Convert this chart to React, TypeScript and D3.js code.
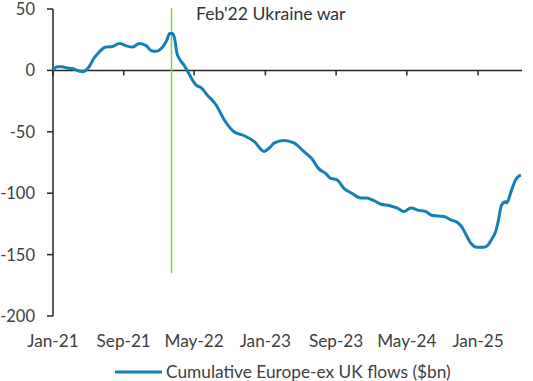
import React from "react";
import * as d3 from "d3";

const dates: string[] = [
  "2021-01-01","2021-01-15","2021-02-01","2021-02-18","2021-03-08","2021-04-01","2021-04-12",
  "2021-05-05","2021-05-22","2021-06-09","2021-07-01","2021-07-24","2021-08-17","2021-09-10",
  "2021-10-01","2021-10-25","2021-11-18","2021-12-05","2021-12-22","2022-01-09","2022-01-26",
  "2022-02-06","2022-02-16","2022-02-23","2022-03-03","2022-03-10","2022-03-28","2022-04-07",
  "2022-05-08","2022-05-25","2022-06-15","2022-07-15","2022-08-12","2022-09-15","2022-10-19",
  "2022-11-24","2022-12-28","2023-01-15","2023-02-01","2023-03-05","2023-04-09","2023-05-13",
  "2023-06-10","2023-07-03","2023-07-28","2023-08-14","2023-09-03","2023-09-28","2023-10-25",
  "2023-11-25","2023-12-16","2024-01-09","2024-02-03","2024-03-01","2024-03-28","2024-04-21",
  "2024-05-15","2024-06-12","2024-07-06","2024-07-25","2024-09-06","2024-10-01","2024-10-20",
  "2024-11-06","2024-11-21","2024-12-08","2024-12-28","2025-01-21","2025-02-05","2025-02-18",
  "2025-03-02","2025-03-12","2025-03-22","2025-04-06","2025-04-09","2025-04-26","2025-05-10",
  "2025-05-28",
];
const flows: number[] = [
  0, 3, 3, 2, 1.5, -0.5, -1,
  3, 10, 15, 19, 19.5, 22, 20,
  19, 22, 20, 16, 15.5, 18, 24,
  30, 30, 26, 14, 10, 4, 0,
  -12, -14, -20, -28, -40, -50, -53,
  -58, -66, -63, -59, -57, -59, -66,
  -72, -80, -84, -88, -89, -96, -100,
  -104, -104, -106, -109, -110, -112, -115,
  -112, -114, -115, -118, -119, -122, -123.5,
  -127.5, -134, -141, -144, -144, -142, -137,
  -131.5, -122, -110, -107, -108, -97.5, -89,
  -85,
];
const yTicks: number[] = [50, 0, -50, -100, -150, -200];
const xTickLabels: string[] = ["Jan-21", "Sep-21", "May-22", "Jan-23", "Sep-23", "May-24", "Jan-25"];
const eventDate = "2022-02-12";
const eventLabel = "Feb'22 Ukraine war";
const seriesName = "Cumulative Europe-ex UK flows ($bn)";

const parse = d3.timeParse("%Y-%m-%d");

export default function App() {
  const W = 533, H = 381;
  const x = d3.scaleTime()
    .domain([parse("2021-01-01")!, parse("2025-06-01")!])
    .range([53, 522]);
  const y = d3.scaleLinear().domain([-200, 50]).range([316, 9]);
  const data = dates.map((d, i) => ({ d: parse(d)!, v: flows[i] }));
  const line = d3.line<{ d: Date; v: number }>()
    .x((p) => x(p.d))
    .y((p) => y(p.v))
    .curve(d3.curveMonotoneX);
  const tickDates = xTickLabels.map((_, i) => d3.timeMonth.offset(parse("2021-01-01")!, i * 8));
  const font = "Lato, 'Open Sans', sans-serif";
  const txt = "#404040";
  const axisCol = "#262626";
  const ex = Math.round(x(parse(eventDate)!)) + 0.5;
  return (
    <svg width={W} height={H} style={{ position: "absolute", left: 0, top: 0, background: "#fff" }}>
      {/* y axis */}
      <line x1={53} x2={53} y1={y(50)} y2={y(-200)} stroke={axisCol} strokeWidth={1.5} />
      {yTicks.map((t) => (
        <g key={t}>
          <line x1={47} x2={53} y1={y(t)} y2={y(t)} stroke={axisCol} strokeWidth={1.5} />
          <text x={35} y={y(t)} dy="0.36em" textAnchor="end" fontFamily={font} fontSize={16.5} fill={txt}>
            {t}
          </text>
        </g>
      ))}
      {/* x axis at zero */}
      <line x1={53} x2={522} y1={y(0)} y2={y(0)} stroke={axisCol} strokeWidth={1.5} />
      {tickDates.map((d, i) => (
        <g key={i}>
          <line x1={x(d)} x2={x(d)} y1={y(0)} y2={y(0) + 5} stroke={axisCol} strokeWidth={1.5} />
          <text x={x(d)} y={347} textAnchor="middle" fontFamily={font} fontSize={17.2} fill={txt}>
            {xTickLabels[i]}
          </text>
        </g>
      ))}
      {/* event line */}
      <line x1={ex} x2={ex} y1={8} y2={273} stroke="#7fd03a" strokeWidth={1.5} />
      <text x={196} y={20} fontFamily={font} fontSize={17.6} fill="#333">{eventLabel}</text>
      {/* series */}
      <path d={line(data) || ""} fill="none" stroke="#1380b8" strokeWidth={3} strokeLinejoin="round" />
      {/* legend */}
      <line x1={115} x2={162} y1={372} y2={372} stroke="#1380b8" strokeWidth={3} />
      <text x={166} y={378} fontFamily={font} fontSize={17.3} fill={txt}>{seriesName}</text>
    </svg>
  );
}
